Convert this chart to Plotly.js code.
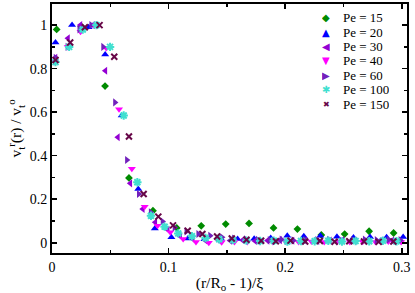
<!DOCTYPE html>
<html><head><meta charset="utf-8">
<script src="https://cdn.plot.ly/plotly-3.0.1.min.js"></script>
<style>html,body{margin:0;padding:0;background:#fff}</style>
</head><body><div id="chart" style="width:415px;height:293px"></div>
<script>
// ---- data ----
const pe15x = [0.004, 0.025, 0.0455, 0.066, 0.0866, 0.107, 0.128, 0.149, 0.169, 0.19, 0.2105, 0.231, 0.251, 0.272, 0.293];
const pe15y = [0.98, 0.995, 0.72, 0.298, 0.147, 0.068, 0.078, 0.086, 0.089, 0.068, 0.063, 0.036, 0.040, 0.053, 0.045];

const pe20x = [0.003, 0.0172, 0.0314, 0.0456, 0.0598, 0.074, 0.0882, 0.1024, 0.1166, 0.1308, 0.145, 0.1592, 0.1734, 0.1876, 0.2018, 0.216, 0.2302, 0.2444, 0.2586, 0.2728, 0.287, 0.3012];
const pe20y = [0.92, 1.0, 0.99, 0.865, 0.585, 0.247, 0.066, 0.025, 0.02, 0.016, 0.018, 0.017, 0.018, 0.022, 0.032, 0.03, 0.032, 0.028, 0.024, 0.027, 0.025, 0.027];

const pe30x = [0.003, 0.0137, 0.0244, 0.0351, 0.0458, 0.0565, 0.0672, 0.0779, 0.0886, 0.0993, 0.11, 0.1207, 0.1314, 0.1421, 0.1528, 0.1635, 0.1742, 0.1849, 0.1956, 0.2063, 0.217, 0.2277, 0.2384, 0.2491, 0.2598, 0.2705, 0.2812, 0.2919];
const pe30y = [0.85, 0.94, 1.0, 1.0, 0.79, 0.485, 0.273, 0.155, 0.094, 0.06, 0.03, 0.018, 0.012, 0.015, 0.01, 0.012, 0.008, 0.01, 0.012, 0.009, 0.011, 0.008, 0.01, 0.012, 0.009, 0.011, 0.008, 0.01];

const pe40x = [0.0025, 0.0135, 0.0245, 0.0355, 0.0465, 0.0575, 0.0685, 0.0795, 0.0905, 0.1015, 0.1125, 0.1235, 0.1345, 0.1455, 0.1565, 0.1675, 0.1785, 0.1895, 0.2005, 0.2115, 0.2225, 0.2335, 0.2445, 0.2555, 0.2665, 0.2775, 0.2885, 0.2995];
const pe40y = [0.83, 0.9, 0.97, 1.0, 0.895, 0.613, 0.34, 0.166, 0.078, 0.048, 0.017, 0.004, 0.0, 0.002, 0.004, 0.003, 0.006, 0.004, 0.005, 0.003, 0.006, 0.004, 0.005, 0.003, 0.005, 0.004, 0.006, 0.004];

const pe60x = [0.003, 0.0132, 0.0234, 0.0336, 0.0438, 0.054, 0.0642, 0.0744, 0.0846, 0.0948, 0.105, 0.1152, 0.1254, 0.1356, 0.1458, 0.156, 0.1662, 0.1764, 0.1866, 0.1968, 0.207, 0.2172, 0.2274, 0.2376, 0.2478, 0.258, 0.2682, 0.2784, 0.2886, 0.2988];
const pe60y = [0.85, 0.90, 0.98, 1.0, 0.90, 0.645, 0.38, 0.224, 0.14, 0.098, 0.07, 0.052, 0.04, 0.032, 0.025, 0.02, 0.016, 0.014, 0.012, 0.015, 0.011, 0.013, 0.012, 0.014, 0.011, 0.013, 0.015, 0.012, 0.014, 0.012];

const pe100x = [0.003, 0.0147, 0.0264, 0.0381, 0.0498, 0.0615, 0.0732, 0.0849, 0.0966, 0.1083, 0.12, 0.1317, 0.1434, 0.1551, 0.1668, 0.1785, 0.1902, 0.2019, 0.2136, 0.2253, 0.237, 0.2487, 0.2604, 0.2721, 0.2838, 0.2955];
const pe100y = [0.83, 0.90, 0.98, 1.0, 0.90, 0.585, 0.278, 0.124, 0.074, 0.043, 0.03, 0.022, 0.016, 0.012, 0.01, 0.008, 0.009, 0.006, 0.008, 0.007, 0.009, 0.006, 0.008, 0.007, 0.009, 0.007];

const pe150x = [0.003, 0.0156, 0.0282, 0.0408, 0.0534, 0.066, 0.0786, 0.0912, 0.1038, 0.1164, 0.129, 0.1416, 0.1542, 0.1668, 0.1794, 0.192, 0.2046, 0.2172, 0.2298, 0.2424, 0.255, 0.2676, 0.2802, 0.2928];
const pe150y = [0.84, 0.92, 0.99, 1.0, 0.855, 0.488, 0.224, 0.12, 0.08, 0.055, 0.04, 0.029, 0.02, 0.014, 0.009, 0.007, 0.01, 0.006, 0.008, 0.005, 0.007, 0.006, 0.004, 0.006];

const seriesNames = ["Pe = 15", "Pe = 20", "Pe = 30", "Pe = 40", "Pe = 60", "Pe = 100", "Pe = 150"];
const xTickVals = [0, 0.1, 0.2, 0.3];
const xTickText = ["0", "0.1", "0.2", "0.3"];
const yTickVals = [0, 0.2, 0.4, 0.6, 0.8, 1];
const yTickText = ["0", "0.2", "0.4", "0.6", "0.8", "1"];

// ---- styles ----
const SERIF = "Liberation Serif, Times New Roman, Times, serif";
const styles = [
  {color: "#008b00", symbol: "diamond", size: 6, glyph: "\u25C6", gsize: 10},
  {color: "#0000ff", symbol: "triangle-up", size: 7, glyph: "\u25B2", gsize: 10},
  {color: "#9400d3", symbol: "triangle-left", size: 7, glyph: "\u25C0", gsize: 10},
  {color: "#ff00ff", symbol: "triangle-down", size: 7, glyph: "\u25BC", gsize: 10},
  {color: "#7221bc", symbol: "triangle-right", size: 7, glyph: "\u25B6", gsize: 10},
  {color: "#40e0d0", symbol: "asterisk-open", size: 7, glyph: "\u2731", gsize: 10, open: true},
  {color: "#670748", symbol: "x-thin-open", size: 6, glyph: "\u2716", gsize: 8, open: true}
];
const xs = [pe15x, pe20x, pe30x, pe40x, pe60x, pe100x, pe150x];
const ys = [pe15y, pe20y, pe30y, pe40y, pe60y, pe100y, pe150y];

const traces = xs.map((x, i) => ({
  type: "scatter", mode: "markers", name: seriesNames[i], x: x, y: ys[i],
  marker: {
    symbol: styles[i].symbol, size: styles[i].size, color: styles[i].color,
    line: styles[i].open ? {color: styles[i].color, width: 2} : {width: 0}
  },
  showlegend: false, cliponaxis: true
}));

// legend built from annotations (to match tight row spacing)
const plotTop = 4, plotH = 249;
const legTop = 17.8, legStep = 14.4, legMarkX = 326, legTextX = 341, plotL = 52, plotW = 355;
const annotations = [];
seriesNames.forEach((n, i) => {
  const py = legTop + i * legStep;
  const yp = 1 - (py - plotTop) / plotH;
  annotations.push({
    xref: "paper", yref: "paper", x: (legMarkX - plotL) / plotW, y: yp,
    xanchor: "center", yanchor: "middle", showarrow: false, height: 13,
    text: styles[i].glyph, font: {family: "DejaVu Sans", size: styles[i].gsize, color: styles[i].color}
  });
  annotations.push({
    xref: "paper", yref: "paper", x: (legTextX - plotL) / plotW, y: yp,
    xanchor: "left", yanchor: "middle", showarrow: false, height: 13,
    text: n, font: {family: SERIF, size: 13, color: "#000"}
  });
});

const axisCommon = {
  showgrid: false, zeroline: false, showline: true, linecolor: "#000", linewidth: 2,
  mirror: "ticks", ticks: "inside", ticklen: 5, tickwidth: 1.5, tickcolor: "#000",
  tickfont: {family: SERIF, size: 14, color: "#000"}
};

const layout = {
  width: 415, height: 293,
  margin: {l: 52, r: 8, t: 4, b: 40},
  paper_bgcolor: "#fff", plot_bgcolor: "#fff",
  showlegend: false,
  font: {family: SERIF},
  xaxis: Object.assign({}, axisCommon, {
    range: [0, 0.3045], tickvals: xTickVals, ticktext: xTickText,
    minor: {dtick: 0.05, tick0: 0, ticks: "inside", ticklen: 3, tickwidth: 1.5, tickcolor: "#000"},
    title: {text: "(r/R<sub>o</sub> - 1)/\u03BE", font: {family: SERIF, size: 15.5, color: "#000"}, standoff: 5}
  }),
  yaxis: Object.assign({}, axisCommon, {
    range: [-0.047, 1.097], tickvals: yTickVals, ticktext: yTickText,
    minor: {dtick: 0.1, tick0: 0, ticks: "inside", ticklen: 3, tickwidth: 1.5, tickcolor: "#000"},
    title: {text: "v<sub>t</sub><sup>r</sup>(r) / v<sub>t</sub><sup>o</sup>", font: {family: SERIF, size: 15.5, color: "#000"}, standoff: 4}
  }),
  annotations: annotations
};

Plotly.newPlot("chart", traces, layout, {staticPlot: true, displayModeBar: false});
</script></body></html>
